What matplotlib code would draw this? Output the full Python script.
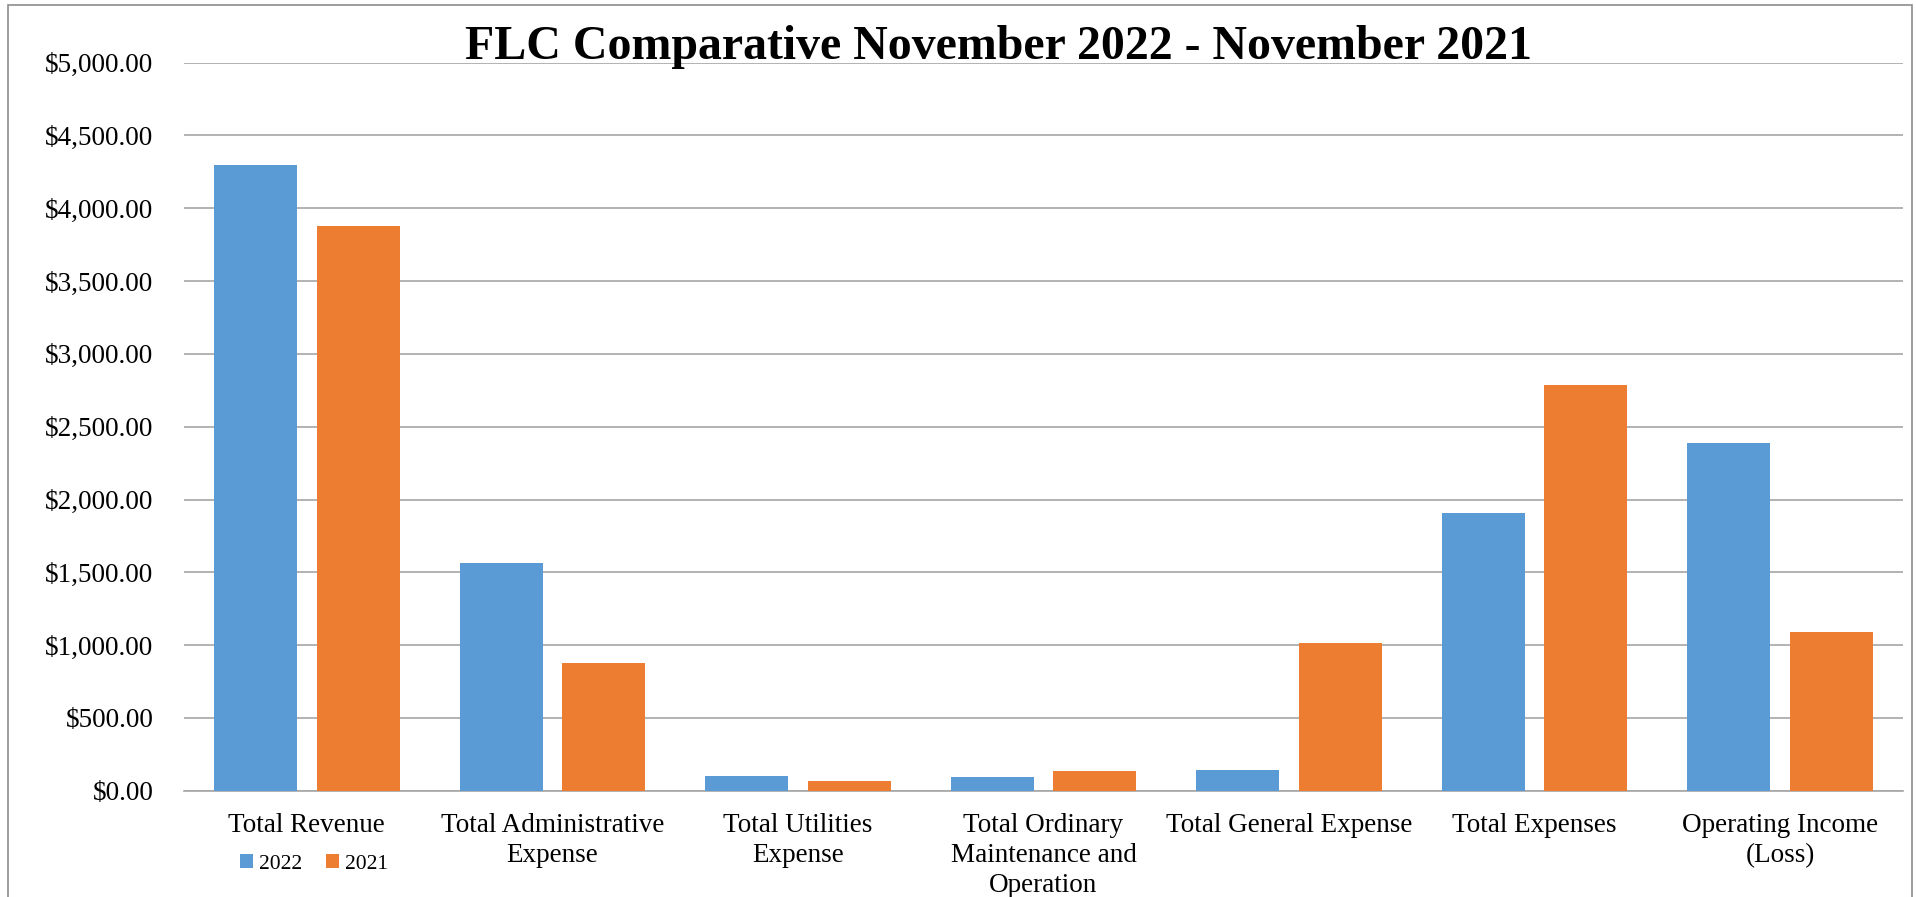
import matplotlib.pyplot as plt
import numpy as np
from matplotlib.patches import Rectangle
from matplotlib.ticker import FuncFormatter

categories = ["Total Revenue", "Total Administrative\nExpense", "Total Utilities\nExpense",
              "Total Ordinary\nMaintenance and\nOperation", "Total General Expense",
              "Total Expenses", "Operating Income\n(Loss)"]
nov_2022 = [4299, 1562, 101, 94, 142, 1907, 2386]
nov_2021 = [3876, 875, 67, 137, 1014, 2789, 1088]

blue = "#5B9BD5"
orange = "#ED7D31"

plt.rcParams['font.family'] = ['Liberation Serif', 'DejaVu Serif']

fig = plt.figure(figsize=(19.16, 8.97), dpi=100)
ax = fig.add_axes([184 / 1916, 1 - 790.7 / 897, (1903 - 184) / 1916, (790.7 - 62.7) / 897])

x = np.arange(len(categories))
w = 0.338
ax.bar(x - 0.209, nov_2022, w, color=blue, label="2022", zorder=3)
ax.bar(x + 0.209, nov_2021, w, color=orange, label="2021", zorder=3)

ax.set_xlim(-0.5, len(categories) - 0.5)
ax.set_ylim(0, 5000)
ax.set_yticks(np.arange(0, 5001, 500))
ax.yaxis.set_major_formatter(FuncFormatter(lambda v, p: "${:,.2f}".format(v)))
ax.grid(axis='y', color='#a6a6a6', linewidth=1.2, zorder=0)
ax.set_xticks(x)
ax.set_xticklabels(categories, fontsize=19.5, linespacing=1.26, va='top')
ax.tick_params(axis='both', length=0, labelsize=19.5)
ax.tick_params(axis='x', pad=16)
ax.tick_params(axis='y', pad=22)
for s in ['top', 'right', 'left']:
    ax.spines[s].set_visible(False)
ax.spines['bottom'].set_color('#a6a6a6')
ax.spines['bottom'].set_linewidth(1.2)

fig.text(998 / 1916, 1 - 47 / 897, "FLC Comparative November 2022 - November 2021",
         ha='center', va='center', fontsize=34.5, fontweight='bold')

fig.legend(loc='center', bbox_to_anchor=(314 / 1916, 1 - 864 / 897), ncol=2, frameon=False,
           fontsize=15.5, handlelength=0.6, handleheight=0.6, handletextpad=0.3,
           columnspacing=1.1)

# outer chart frame
fig.patches.append(Rectangle((8 / 1916, -0.05), (1912 - 8) / 1916, 1.05 - 4.5 / 897,
                             transform=fig.transFigure, fill=False,
                             edgecolor='#8c8c8c', linewidth=1.2))

fig.savefig("out.png", dpi=100)
